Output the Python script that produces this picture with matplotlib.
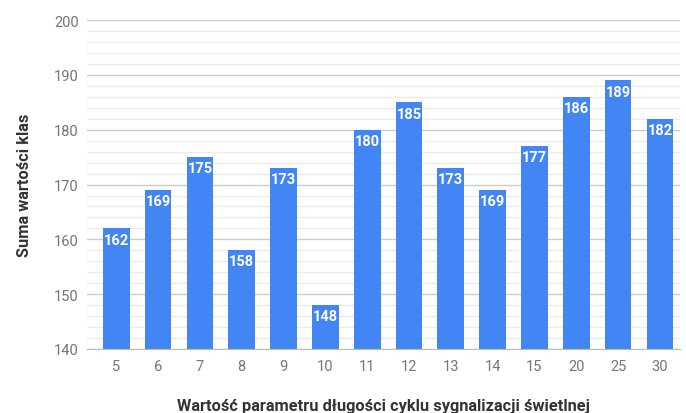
import numpy as np
import matplotlib.pyplot as plt

kategorie = ['5', '6', '7', '8', '9', '10', '11', '12', '13', '14', '15', '20', '25', '30']
wartosci = [162, 169, 175, 158, 173, 148, 180, 185, 173, 169, 177, 186, 189, 182]

plt.rcParams['font.family'] = ['Roboto', 'DejaVu Sans']

fig = plt.figure(figsize=(6.86, 4.14), dpi=100)
ax = fig.add_axes([0.1268, 0.1546, 0.8644, 0.7944])

x = np.arange(len(kategorie))
ax.bar(x, wartosci, width=0.64, color='#4285f4', zorder=3)

for xi, v in zip(x, wartosci):
    ax.annotate(str(v), (xi, v), xytext=(0, -3), textcoords='offset points',
                ha='center', va='top', color='white', fontsize=10.5,
                fontweight='bold', zorder=4)

ax.set_ylim(140, 200)
ax.set_xlim(-0.70, 13.48)
ax.set_yticks(np.arange(140, 201, 10))
ax.set_yticks(np.arange(140, 201, 2), minor=True)
ax.set_xticks(x)
ax.set_xticklabels(kategorie)
ax.grid(axis='y', which='major', color='#cccccc', linewidth=1, zorder=0)
ax.grid(axis='y', which='minor', color='#ebebeb', linewidth=1, zorder=0)
ax.tick_params(axis='both', which='both', length=0, labelsize=10.5, labelcolor='#757575')
ax.tick_params(axis='y', pad=6)
ax.tick_params(axis='x', pad=7)
for s in ['top', 'right', 'left']:
    ax.spines[s].set_visible(False)
ax.spines['bottom'].set_color('#bbbbbb')
ax.spines['bottom'].set_zorder(5)

ax.set_ylabel('Suma wartości klas', fontsize=11.8, fontweight='bold', color='#333333', labelpad=16)
ax.set_xlabel('Wartość parametru długości cyklu sygnalizacji świetlnej', fontsize=11.8,
              fontweight='bold', color='#333333', labelpad=18)

fig.savefig('out.png', dpi=100)
